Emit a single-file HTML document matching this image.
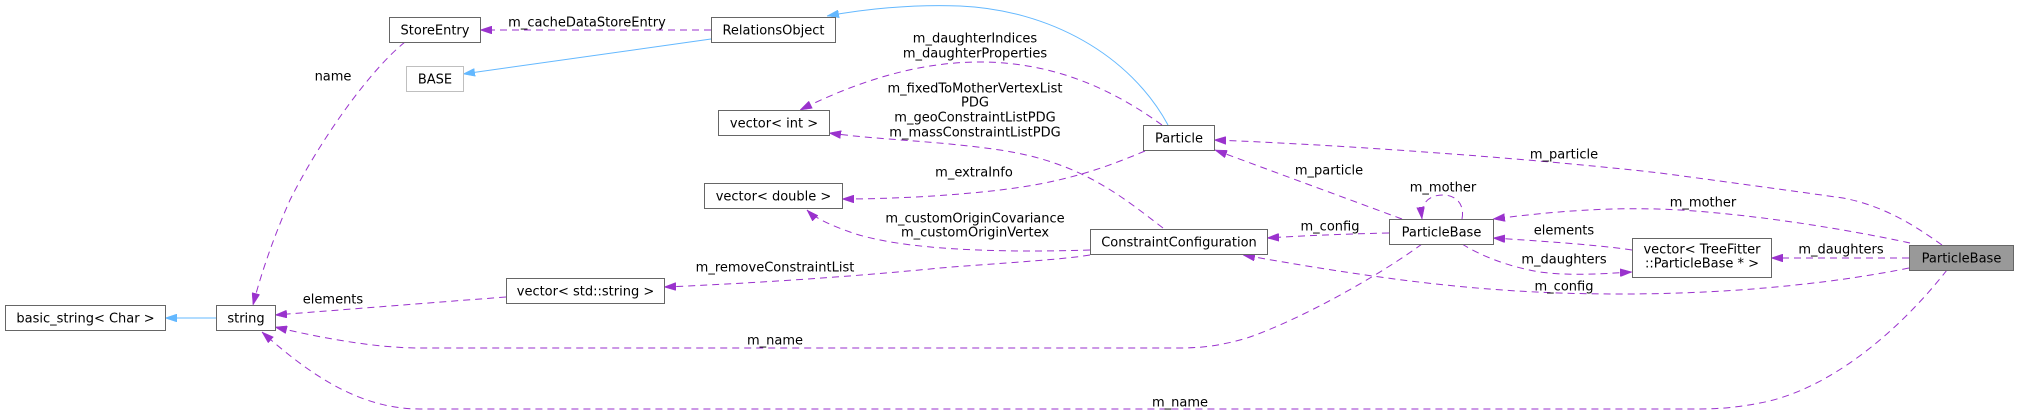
<!DOCTYPE html>
<html>
<head>
<meta charset="utf-8">
<style>
  html, body { margin:0; padding:0; background:#ffffff; }
  body { width:2019px; height:415px; overflow:hidden; }
  svg { display:block; }
  text { font-family: "DejaVu Sans", "Liberation Sans", sans-serif; font-size:13px; fill:#000; }
  .node { fill:#ffffff; stroke:#666666; stroke-width:1; }
  .nodeL { fill:#ffffff; stroke:#bfbfbf; stroke-width:1; }
  .nodeG { fill:#999999; stroke:#666666; stroke-width:1; }
  .e { fill:none; stroke:#9a32cd; stroke-width:1; stroke-dasharray:7,5; }
  .b { fill:none; stroke:#63b8ff; stroke-width:1; }
</style>
</head>
<body>
<svg width="2019" height="415" viewBox="0 0 2019 415" xmlns="http://www.w3.org/2000/svg">
  <defs>
    <marker id="ap" markerUnits="userSpaceOnUse" viewBox="0 0 12 8" refX="12" refY="4" markerWidth="12" markerHeight="8" orient="auto">
      <path d="M0,0 L12,4 L0,8 z" fill="#9a32cd" stroke="#9a32cd" stroke-width="0.5"/>
    </marker>
    <marker id="ab" markerUnits="userSpaceOnUse" viewBox="0 0 12 8" refX="12" refY="4" markerWidth="12" markerHeight="8" orient="auto">
      <path d="M0,0 L12,4 L0,8 z" fill="#63b8ff" stroke="#63b8ff" stroke-width="0.5"/>
    </marker>
  </defs>

  <!-- Blue inheritance edges -->
  <path class="b" d="M216,318 L165,318" marker-end="url(#ab)"/>
  <path class="b" d="M711,39 L463,74" marker-end="url(#ab)"/>
  <path class="b" d="M1168,125 C1130,55 1050,10 960,6 C905,4 860,10 827,16" marker-end="url(#ab)"/>

  <!-- Purple dashed edges -->
  <path class="e" d="M711,30 L480,30" marker-end="url(#ap)"/>
  <path class="e" d="M405,42 C370,70 320,140 290,200 C270,245 258,285 253,305" marker-end="url(#ap)"/>
  <path class="e" d="M506,297 C440,302 340,310 275,315" marker-end="url(#ap)"/>
  <path class="e" d="M1090,255 C1060,260 1000,263 940,268 C850,277 740,284 664,287" marker-end="url(#ap)"/>
  <path class="e" d="M1090,250 C1000,253 900,250 850,232 C830,225 815,218 807,210" marker-end="url(#ap)"/>
  <path class="e" d="M1163,228 C1120,195 1080,162 1000,150 C940,141 880,140 829,133" marker-end="url(#ap)"/>
  <path class="e" d="M1162,125 C1100,80 1040,62 980,62 C920,62 860,80 800,110" marker-end="url(#ap)"/>
  <path class="e" d="M1145,151 C1100,170 1060,183 1000,190 C950,196 890,199 842,199" marker-end="url(#ap)"/>
  <path class="e" d="M1402,219 L1215,150" marker-end="url(#ap)"/>
  <path class="e" d="M1389,233 C1340,234 1300,236 1267,238" marker-end="url(#ap)"/>
  <path class="e" d="M1462,219 C1465,203 1455,195 1443,195 C1430,195 1420,202 1422,219" marker-end="url(#ap)"/>
  <path class="e" d="M1422,244 C1380,275 1300,320 1247,338 C1220,346 1200,348 1180,348 L420,348 C380,348 330,340 275,327" marker-end="url(#ap)"/>
  <path class="e" d="M1632,250 C1600,245 1540,241 1493,238" marker-end="url(#ap)"/>
  <path class="e" d="M1462,244 C1480,255 1505,266 1540,272 C1570,276 1600,274 1632,272" marker-end="url(#ap)"/>
  <path class="e" d="M1909,258 L1771,258" marker-end="url(#ap)"/>
  <path class="e" d="M1910,243 C1850,230 1760,215 1680,210 C1610,206 1550,212 1493,219" marker-end="url(#ap)"/>
  <path class="e" d="M1942,245 C1910,222 1880,205 1843,198 C1800,192 1750,185 1660,173 C1500,155 1300,143 1214,140" marker-end="url(#ap)"/>
  <path class="e" d="M1909,268 C1850,280 1750,294 1620,294 C1500,294 1400,283 1243,255" marker-end="url(#ap)"/>
  <path class="e" d="M1947,270 C1900,330 1830,390 1760,403 C1740,407 1720,409 1700,409 L420,409 C360,409 310,375 262,332" marker-end="url(#ap)"/>

  <!-- Edge labels -->
  <g text-anchor="middle">
    <text x="587" y="26.5">m_cacheDataStoreEntry</text>
    <text x="333" y="80.5">name</text>
    <text x="333" y="303.5">elements</text>
    <text x="775" y="271.5">m_removeConstraintList</text>
    <text x="975" y="222.5">m_customOriginCovariance</text>
    <text x="975" y="236.5">m_customOriginVertex</text>
    <text x="975" y="92.5">m_fixedToMotherVertexList</text>
    <text x="975" y="106.5">PDG</text>
    <text x="975" y="121.5">m_geoConstraintListPDG</text>
    <text x="975" y="136.5">m_massConstraintListPDG</text>
    <text x="975" y="42.5">m_daughterIndices</text>
    <text x="975" y="57.5">m_daughterProperties</text>
    <text x="974" y="176.5">m_extraInfo</text>
    <text x="1329" y="174.5">m_particle</text>
    <text x="1330" y="230.5">m_config</text>
    <text x="1443" y="191.5">m_mother</text>
    <text x="775" y="344.5">m_name</text>
    <text x="1180" y="406.5">m_name</text>
    <text x="1564" y="234.5">elements</text>
    <text x="1564" y="263.5">m_daughters</text>
    <text x="1841" y="253.5">m_daughters</text>
    <text x="1703" y="206.5">m_mother</text>
    <text x="1564" y="158.5">m_particle</text>
    <text x="1564" y="290.5">m_config</text>
  </g>

  <!-- Nodes -->
  <rect class="node" x="389.5" y="17.5" width="91" height="25"/>
  <rect class="nodeL" x="406.5" y="66.5" width="57" height="25"/>
  <rect class="node" x="711.5" y="17.5" width="124" height="25"/>
  <rect class="node" x="718.5" y="110.5" width="111" height="25"/>
  <rect class="node" x="704.5" y="183.5" width="138" height="25"/>
  <rect class="node" x="1143.5" y="125.5" width="71" height="25"/>
  <rect class="node" x="1090.5" y="229.5" width="177" height="25"/>
  <rect class="node" x="1389.5" y="219.5" width="104" height="25"/>
  <rect class="node" x="1632.5" y="238.5" width="139" height="39" style="stroke:#666666"/>
  <rect class="nodeG" x="1909.5" y="245.5" width="104" height="25"/>
  <rect class="node" x="5.5" y="305.5" width="160" height="25"/>
  <rect class="node" x="216.5" y="305.5" width="59" height="25"/>
  <rect class="node" x="506.5" y="278.5" width="158" height="25"/>

  <g text-anchor="middle">
    <text x="435" y="34.5">StoreEntry</text>
    <text x="435" y="83.5">BASE</text>
    <text x="773.5" y="34.5">RelationsObject</text>
    <text x="774" y="127.5">vector&lt; int &gt;</text>
    <text x="773.5" y="200.5">vector&lt; double &gt;</text>
    <text x="1179" y="142.5">Particle</text>
    <text x="1179" y="246.5">ConstraintConfiguration</text>
    <text x="1441.5" y="236.5">ParticleBase</text>
    <text x="1702" y="253.5">vector&lt; TreeFitter</text>
    <text x="1702" y="267.5">::ParticleBase * &gt;</text>
    <text x="1961.5" y="262.5">ParticleBase</text>
    <text x="85.5" y="322.5">basic_string&lt; Char &gt;</text>
    <text x="246" y="322.5">string</text>
    <text x="585.5" y="295.5">vector&lt; std::string &gt;</text>
  </g>
</svg>
</body>
</html>
